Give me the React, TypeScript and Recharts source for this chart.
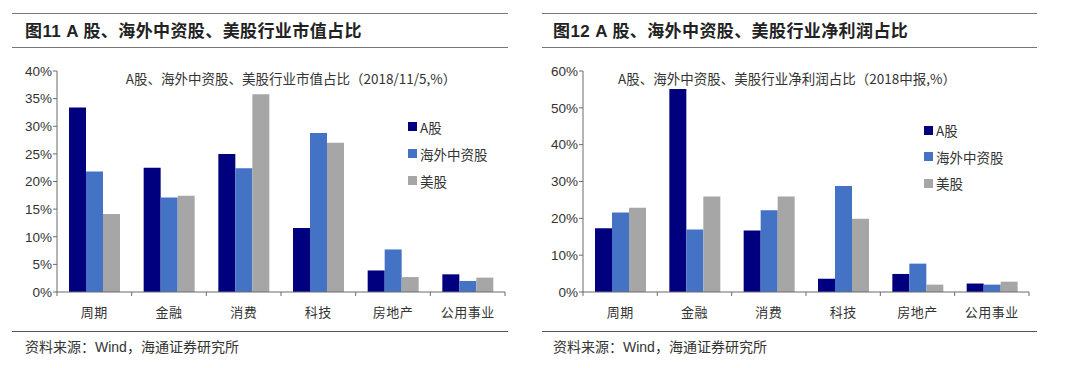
import { Bar, BarChart, Legend, XAxis, YAxis } from 'recharts'

const categories = ['周期', '金融', '消费', '科技', '房地产', '公用事业']
const seriesNames = ['A股', '海外中资股', '美股']

// market value share (%)
const mvA = [33.4, 22.5, 25.0, 11.6, 3.9, 3.2]
const mvOverseas = [21.8, 17.1, 22.4, 28.8, 7.7, 2.0]
const mvUS = [14.1, 17.4, 35.8, 27.0, 2.7, 2.6]
const mvTicks = [0, 5, 10, 15, 20, 25, 30, 35, 40]

// net profit share (%)
const npA = [17.3, 55.1, 16.7, 3.6, 4.9, 2.3]
const npOverseas = [21.6, 17.0, 22.2, 28.8, 7.7, 2.0]
const npUS = [22.9, 25.9, 25.9, 19.9, 2.0, 2.8]
const npTicks = [0, 10, 20, 30, 40, 50, 60]

const colors = ['#00007f', '#4472c4', '#a6a6a6']

const FONT = '"Liberation Sans", Arial, "Noto Sans CJK SC", sans-serif'
const CJK = '"Noto Sans CJK SC", sans-serif'
const W = 540
const H = 368
const PLOT_BOTTOM = 292
const PLOT_TOP = 71
const AXIS = '#6b6b6b'

const build = (a: number[], b: number[], c: number[]) =>
    categories.map((name, i) => ({ name, a: a[i], b: b[i], c: c[i] }))

interface PanelProps {
    left: number
    title: string
    subtitle: string
    subtitleX: number
    ruleLeft: number
    ruleRight: number
    textLeft: number
    plotLeft: number
    plotRight: number
    legendLeft: number
    legendTop: number
    legendGap: number
    data: { name: string; a: number; b: number; c: number }[]
    ticks: number[]
}

const Panel = (p: PanelProps) => {
    const band = (p.plotRight - p.plotLeft) / categories.length
    const max = p.ticks[p.ticks.length - 1]

    const CatTick = (props: any) => {
        const { x, y, payload, index } = props
        const axisY = y - 6
        const lx = x - band / 2
        return (
            <g>
                <line x1={lx} x2={lx} y1={axisY} y2={axisY + 4} stroke={AXIS} />
                {index === categories.length - 1 && (
                    <line x1={x + band / 2} x2={x + band / 2} y1={axisY} y2={axisY + 4} stroke={AXIS} />
                )}
                <text
                    x={x}
                    y={axisY + 25}
                    textAnchor="middle"
                    fontSize={13}
                    fill="#333"
                    fontFamily={CJK}
                    letterSpacing={0.5}
                >
                    {payload.value}
                </text>
            </g>
        )
    }

    const legendContent = () => (
        <div style={{ fontFamily: CJK, fontSize: 13.5, color: '#333' }}>
            {seriesNames.map((n, i) => (
                <div
                    key={n}
                    style={{ display: 'flex', alignItems: 'center', height: p.legendGap }}
                >
                    <span
                        style={{
                            display: 'inline-block',
                            width: 9,
                            height: 9,
                            background: colors[i],
                            marginRight: 3,
                        }}
                    />
                    <span>{n}</span>
                </div>
            ))}
        </div>
    )

    return (
        <div style={{ position: 'absolute', left: p.left, top: 0, width: W, height: H }}>
            <div
                style={{
                    position: 'absolute',
                    left: p.ruleLeft,
                    width: p.ruleRight - p.ruleLeft,
                    top: 13,
                    height: 0,
                    borderTop: '1.5px solid #777',
                }}
            />
            <div
                style={{
                    position: 'absolute',
                    left: p.textLeft,
                    top: 20,
                    fontFamily: FONT,
                    fontWeight: 'bold',
                    fontSize: 17,
                    lineHeight: '24px',
                    letterSpacing: 0.4,
                    color: '#222',
                    whiteSpace: 'nowrap',
                }}
            >
                {p.title}
            </div>
            <div
                style={{
                    position: 'absolute',
                    left: p.ruleLeft,
                    width: p.ruleRight - p.ruleLeft,
                    top: 47,
                    height: 0,
                    borderTop: '1.5px solid #777',
                }}
            />
            <div
                style={{
                    position: 'absolute',
                    left: p.ruleLeft,
                    width: p.ruleRight - p.ruleLeft,
                    top: 331,
                    height: 0,
                    borderTop: '1.5px solid #555',
                }}
            />
            <div
                style={{
                    position: 'absolute',
                    left: p.textLeft,
                    top: 337,
                    fontFamily: FONT,
                    fontSize: 14,
                    lineHeight: '20px',
                    color: '#333',
                    whiteSpace: 'nowrap',
                }}
            >
                资料来源：Wind，海通证券研究所
            </div>
            <BarChart
                width={W}
                height={H}
                data={p.data}
                margin={{ top: PLOT_TOP, right: W - p.plotRight, bottom: H - PLOT_BOTTOM - 30, left: 0 }}
                barCategoryGap={12}
                barGap={0}
                style={{ position: 'absolute', left: 0, top: 0 }}
            >
                <XAxis
                    dataKey="name"
                    height={30}
                    tickLine={false}
                    tickSize={4}
                    tickMargin={2}
                    stroke={AXIS}
                    tick={<CatTick />}
                    interval={0}
                />
                <YAxis
                    width={p.plotLeft}
                    domain={[0, max]}
                    ticks={p.ticks}
                    tickFormatter={(v: number) => `${v}%`}
                    tickSize={4}
                    tickMargin={1}
                    stroke={AXIS}
                    tick={{ fontSize: 13.5, fill: '#333', fontFamily: FONT }}
                    interval={0}
                />
                <Legend
                    layout="horizontal"
                    verticalAlign="middle"
                    align="center"
                    content={legendContent}
                    wrapperStyle={{ left: p.legendLeft, top: p.legendTop, width: 'auto' }}
                />
                <Bar dataKey="a" name={seriesNames[0]} fill={colors[0]} isAnimationActive={false} />
                <Bar dataKey="b" name={seriesNames[1]} fill={colors[1]} isAnimationActive={false} />
                <Bar dataKey="c" name={seriesNames[2]} fill={colors[2]} isAnimationActive={false} />
            </BarChart>
            <div
                style={{
                    position: 'absolute',
                    left: p.subtitleX,
                    top: 69,
                    transform: 'translateX(-50%)',
                    fontFamily: CJK,
                    fontSize: 13.5,
                    lineHeight: '18px',
                    color: '#333',
                    whiteSpace: 'nowrap',
                }}
            >
                {p.subtitle}
            </div>
        </div>
    )
}

export default function App() {
    return (
        <div
            style={{
                position: 'absolute',
                left: 0,
                top: 0,
                width: 1080,
                height: 368,
                background: '#fff',
                overflow: 'hidden',
            }}
        >
            <Panel
                left={0}
                title="图11 A 股、海外中资股、美股行业市值占比"
                subtitle="A股、海外中资股、美股行业市值占比（2018/11/5,%）"
                subtitleX={291}
                ruleLeft={12}
                ruleRight={508}
                textLeft={25}
                plotLeft={57}
                plotRight={505}
                legendLeft={408}
                legendTop={113}
                legendGap={27}
                data={build(mvA, mvOverseas, mvUS)}
                ticks={mvTicks}
            />
            <Panel
                left={540}
                title="图12 A 股、海外中资股、美股行业净利润占比"
                subtitle="A股、海外中资股、美股行业净利润占比（2018中报,%）"
                subtitleX={247}
                ruleLeft={2}
                ruleRight={497}
                textLeft={13}
                plotLeft={43}
                plotRight={489}
                legendLeft={384}
                legendTop={117}
                legendGap={26.5}
                data={build(npA, npOverseas, npUS)}
                ticks={npTicks}
            />
        </div>
    )
}
